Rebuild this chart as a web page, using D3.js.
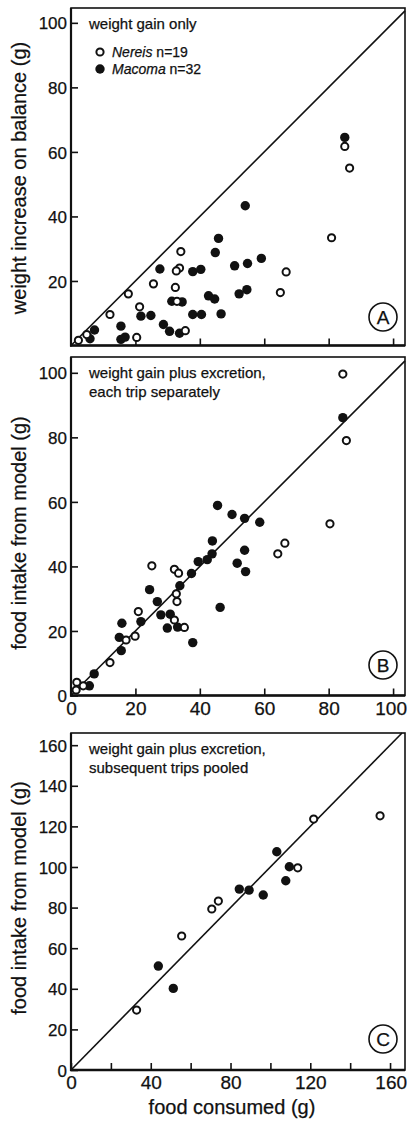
<!DOCTYPE html>
<html>
<head>
<meta charset="utf-8">
<script src="https://cdn.jsdelivr.net/npm/d3@7/dist/d3.min.js"></script>
<style>
  html, body { margin: 0; padding: 0; background: #fff; }
  svg { display: block; }
  text { font-family: "Liberation Sans", Arial, Helvetica, sans-serif; fill: #111; stroke: #111; stroke-width: 0.25px; }
</style>
</head>
<body>
<svg id="chart" width="407" height="1122"></svg>
<script>
// Food consumed (g) vs. model estimate (g); Nereis = open circles, Macoma = filled circles.

// Panel A: weight gain only
const nereisA = [
  [85.0, 61.7], [86.5, 55.0], [80.9, 33.4], [34.1, 29.1], [33.7, 24.0], [32.7, 23.1],
  [66.8, 22.8], [25.6, 19.1], [32.4, 18.0], [17.8, 16.0], [65.0, 16.4], [32.9, 13.7],
  [21.3, 12.0], [12.1, 9.6], [35.5, 4.6], [20.4, 2.5], [4.9, 3.4], [2.3, 1.6]
];
const macomaA = [
  [85.0, 64.5], [54.1, 43.3], [45.8, 33.2], [44.8, 28.8], [27.6, 23.7], [37.8, 22.9],
  [40.3, 23.6], [50.8, 24.7], [54.8, 25.4], [59.1, 27.0], [42.7, 15.4], [44.6, 14.4],
  [54.6, 17.3], [52.2, 16.0], [31.3, 13.7], [34.5, 13.5], [21.7, 9.1], [24.8, 9.3],
  [37.8, 9.6], [40.5, 9.6], [46.6, 9.8], [15.5, 6.0], [28.7, 6.5], [30.6, 4.4],
  [33.7, 3.8], [15.5, 1.9], [16.8, 2.6], [7.3, 4.8], [5.9, 2.1]
];

// Panel B: weight gain plus excretion, each trip separately
const nereisB = [
  [84.4, 99.6], [85.5, 79.0], [80.4, 53.2], [66.4, 47.2], [64.2, 43.9], [25.1, 40.2],
  [32.1, 39.1], [33.4, 37.9], [32.7, 31.5], [32.9, 29.1], [20.9, 26.0], [32.1, 23.4],
  [35.2, 21.1], [17.1, 17.2], [19.9, 18.4], [12.1, 10.2], [3.8, 3.0], [1.8, 4.1], [1.6, 1.7]
];
const macomaB = [
  [84.4, 86.1], [45.5, 58.9], [50.0, 56.1], [53.9, 54.9], [58.6, 53.7], [53.9, 45.0],
  [51.6, 41.0], [54.2, 38.4], [43.9, 47.9], [43.8, 43.9], [42.3, 42.1], [39.5, 41.5],
  [37.4, 37.8], [33.8, 34.0], [24.4, 32.8], [26.8, 29.1], [46.3, 27.3], [27.9, 25.0],
  [30.8, 25.2], [21.7, 22.9], [29.9, 20.9], [33.1, 21.2], [15.8, 22.4], [15.0, 18.0],
  [37.8, 16.4], [15.6, 13.9], [7.2, 6.7], [5.7, 3.0]
];

// Panel C: weight gain plus excretion, subsequent trips pooled
const nereisC = [
  [121.7, 123.6], [155.0, 125.2], [113.7, 99.6], [73.9, 83.2], [70.6, 79.3],
  [55.5, 66.0], [32.9, 29.5]
];
const macomaC = [
  [103.2, 107.5], [109.5, 100.1], [107.7, 93.2], [84.4, 89.1], [89.3, 88.6],
  [96.4, 86.2], [43.8, 51.2], [51.3, 40.2]
];

// Tick values and labels
const ticksAB = [0, 20, 40, 60, 80, 100];
const ticksC = [0, 20, 40, 60, 80, 100, 120, 140, 160];
const labelsCx = [0, 40, 80, 120, 160];

const svg = d3.select("#chart");

const panels = [
  {
    key: "A", nereis: nereisA, macoma: macomaA,
    top: 8, bottom: 345.5, xMax: 103.7, yMax: 104.6,
    xTicks: ticksAB.slice(1), xLabels: [], yTicks: ticksAB.slice(1), yLabels: ticksAB.slice(1),
    yTitle: "weight increase on balance (g)", titleY: 178,
    note: ["weight gain only"], legend: true, badgeY: 317
  },
  {
    key: "B", nereis: nereisB, macoma: macomaB,
    top: 357, bottom: 695.5, xMax: 103.7, yMax: 104.9,
    xTicks: ticksAB, xLabels: ticksAB, yTicks: ticksAB, yLabels: ticksAB,
    yTitle: "food intake from model (g)", titleY: 533,
    note: ["weight gain plus excretion,", "each trip separately"], legend: false, badgeY: 665
  },
  {
    key: "C", nereis: nereisC, macoma: macomaC,
    top: 733, bottom: 1070, xMax: 167.5, yMax: 166,
    xTicks: ticksC, xLabels: labelsCx, yTicks: ticksC, yLabels: ticksC,
    yTitle: "food intake from model (g)", titleY: 898,
    note: ["weight gain plus excretion,", "subsequent trips pooled"], legend: false, badgeY: 1039
  }
];

const left = 71, right = 405;

panels.forEach(p => {
  const x = d3.scaleLinear().domain([0, p.xMax]).range([left, right]);
  const y = d3.scaleLinear().domain([0, p.yMax]).range([p.bottom, p.top]);
  const g = svg.append("g").attr("class", "panel-" + p.key);

  // 1:1 line
  const lim = Math.min(p.xMax, p.yMax);
  g.append("line")
    .attr("x1", x(0)).attr("y1", y(0))
    .attr("x2", x(lim)).attr("y2", y(lim))
    .attr("stroke", "#111").attr("stroke-width", 1.6);

  // axes (ticks point inward)
  const yAxis = d3.axisLeft(y)
    .tickValues(p.yTicks)
    .tickSizeInner(-7).tickSizeOuter(0).tickPadding(4)
    .tickFormat(d => p.yLabels.includes(d) ? d : "");
  const ya = g.append("g").attr("transform", `translate(${left},0)`).call(yAxis);
  ya.select(".domain").remove();
  ya.selectAll(".tick line").attr("stroke", "#111").attr("stroke-width", 1.6);
  ya.selectAll(".tick text").style("font-size", "17px").attr("fill", "#111").attr("dy", "0.36em");

  const xAxis = d3.axisBottom(x)
    .tickValues(p.xTicks)
    .tickSizeInner(-7).tickSizeOuter(0).tickPadding(6)
    .tickFormat(d => p.xLabels.includes(d) ? d : "");
  const xa = g.append("g").attr("transform", `translate(0,${p.bottom})`).call(xAxis);
  xa.select(".domain").remove();
  xa.selectAll(".tick line").attr("stroke", "#111").attr("stroke-width", 1.6);
  xa.selectAll(".tick text").style("font-size", "19px").attr("fill", "#111");
  // keep a label that would run past the right edge inside the page
  xa.selectAll(".tick text")
    .filter(d => x(d) > right - 16)
    .attr("text-anchor", "end")
    .attr("x", d => right + 1.5 - x(d));

  // frame
  g.append("rect")
    .attr("x", left).attr("y", p.top)
    .attr("width", right - left).attr("height", p.bottom - p.top)
    .attr("fill", "none").attr("stroke", "#111").attr("stroke-width", 1.6);
  g.append("line")
    .attr("x1", left - 1).attr("x2", right)
    .attr("y1", p.bottom).attr("y2", p.bottom)
    .attr("stroke", "#111").attr("stroke-width", 2.4);
  g.append("line")
    .attr("x1", left).attr("x2", left)
    .attr("y1", p.top).attr("y2", p.bottom + 1)
    .attr("stroke", "#111").attr("stroke-width", 2.2);

  // points: Macoma filled underneath, Nereis open on top
  g.selectAll("circle.macoma").data(p.macoma).join("circle")
    .attr("class", "macoma")
    .attr("cx", d => x(d[0])).attr("cy", d => y(d[1]))
    .attr("r", 4.7).attr("fill", "#111");
  g.selectAll("circle.nereis").data(p.nereis).join("circle")
    .attr("class", "nereis")
    .attr("cx", d => x(d[0])).attr("cy", d => y(d[1]))
    .attr("r", 3.6).attr("fill", "#fff").attr("stroke", "#111").attr("stroke-width", 2);

  // y-axis title
  g.append("text")
    .attr("transform", `translate(26,${p.titleY}) rotate(-90)`)
    .attr("text-anchor", "middle")
    .style("font-size", "20px")
    .text(p.yTitle);

  // annotation
  const note = g.append("text").style("font-size", "15px");
  p.note.forEach((line, i) => {
    note.append("tspan").attr("x", 89).attr("y", p.top + 21 + i * 19).text(line);
  });

  // legend
  if (p.legend) {
    const entries = [
      { name: "Nereis", n: "n=19", open: true, yy: 52 },
      { name: "Macoma", n: "n=32", open: false, yy: 69 }
    ];
    entries.forEach(e => {
      g.append("circle")
        .attr("cx", 100).attr("cy", e.yy)
        .attr("r", e.open ? 3.6 : 4.7)
        .attr("fill", e.open ? "#fff" : "#111")
        .attr("stroke", e.open ? "#111" : "none")
        .attr("stroke-width", 2);
      const t = g.append("text").attr("x", 112).attr("y", e.yy + 5).style("font-size", "14px");
      t.append("tspan").style("font-style", "italic").text(e.name);
      t.append("tspan").text(" " + e.n);
    });
  }

  // panel badge
  g.append("circle")
    .attr("cx", 383).attr("cy", p.badgeY).attr("r", 14)
    .attr("fill", "#fff").attr("stroke", "#111").attr("stroke-width", 1.6);
  g.append("text")
    .attr("x", 383).attr("y", p.badgeY).attr("dy", "0.36em")
    .attr("text-anchor", "middle")
    .style("font-size", "19px")
    .text(p.key);

  if (p.key === "C") {
    g.append("text")
      .attr("x", 232).attr("y", 1114)
      .attr("text-anchor", "middle")
      .style("font-size", "20px")
      .text("food consumed (g)");
  }
});
</script>
</body>
</html>
